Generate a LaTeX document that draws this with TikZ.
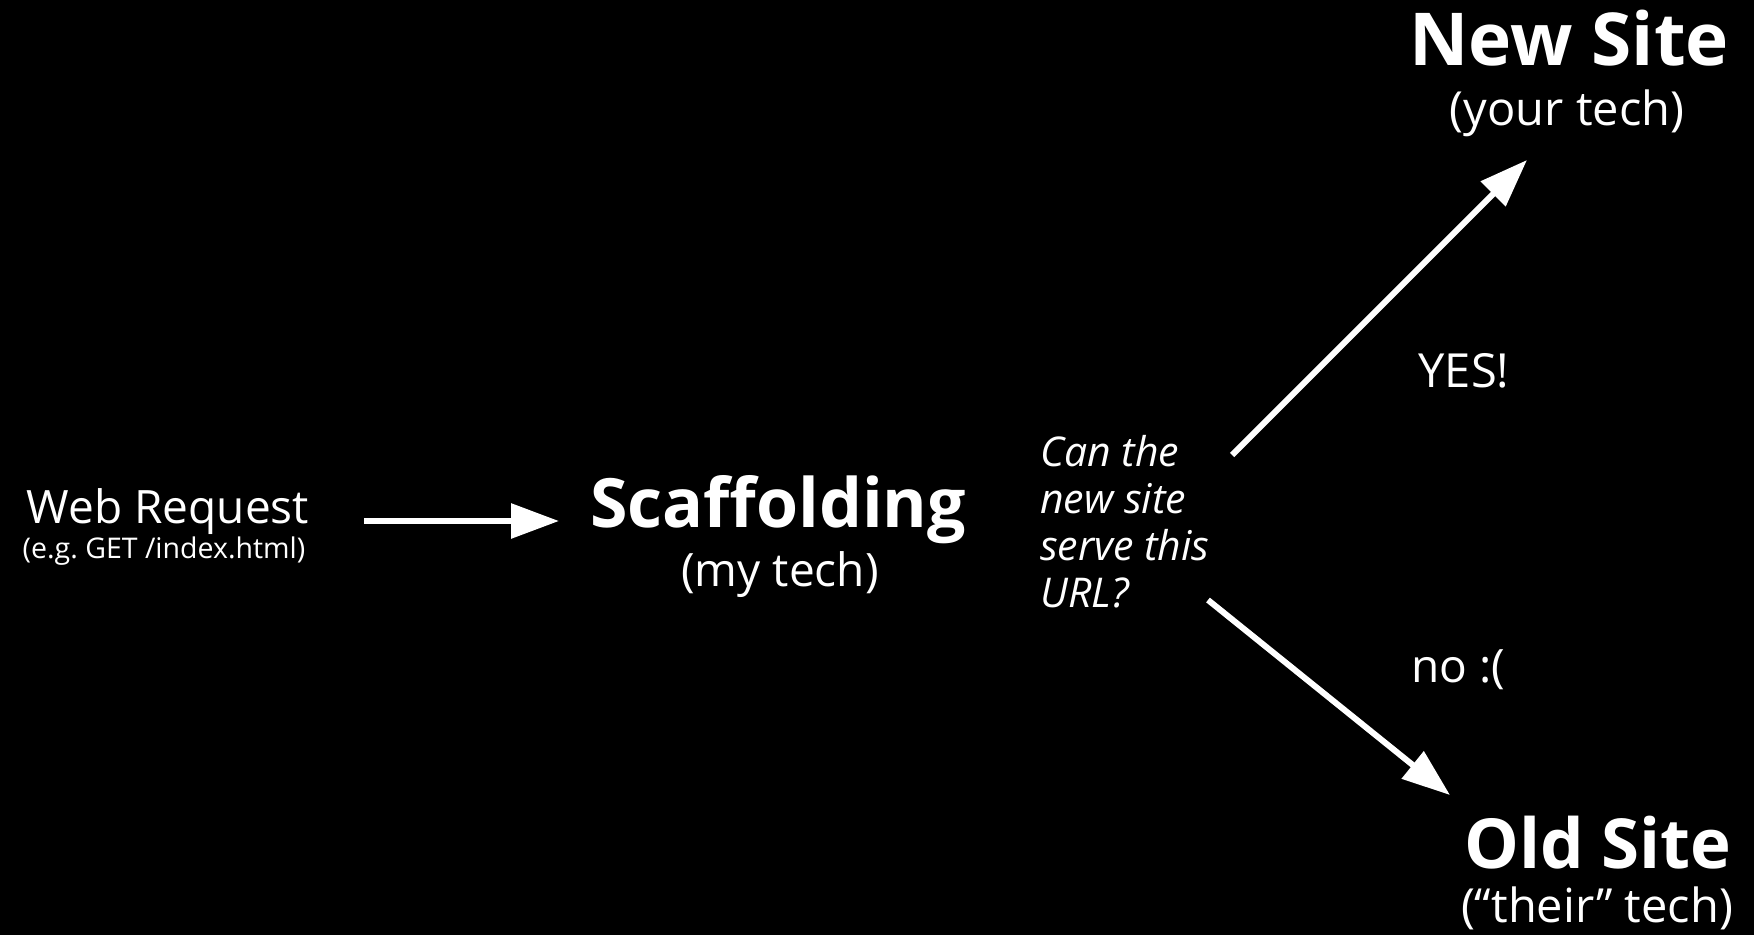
\documentclass[tikz,border=0pt]{standalone}
\usepackage{fontspec}
\setmainfont{Open Sans}
\usetikzlibrary{arrows.meta}
\tikzset{
  lbl/.style={text=white, inner sep=0pt, anchor=base},
  flow/.style={draw=white, line width=6pt,
    -{Triangle[length=48pt, width=34pt]}},
}
\begin{document}
\begin{tikzpicture}[x=1pt, y=-1pt]
  % black canvas
  \fill[black] (0,0) rectangle (1754,935);
  \useasboundingbox (0,0) rectangle (1754,935);

  % request on the left
  \node[lbl, font=\fontsize{46}{52}\selectfont] (web) at (168,523) {Web Request};
  \node[lbl, font=\fontsize{28.5}{34}\selectfont] (webex) at (164,558) {(e.g.\ GET /index.html)};

  % scaffolding in the middle
  \node[lbl, font=\bfseries\fontsize{68}{74}\selectfont] (scaf) at (778,527) {Scaffolding};
  \node[lbl, font=\fontsize{46}{52}\selectfont] (scafsub) at (780,586) {(my tech)};

  % the question (anchored on the baseline of its last line)
  \node[text=white, inner sep=0pt, anchor=base west, align=left,
        font=\itshape\fontsize{41}{47}\selectfont] (q) at (1040,607)
        {Can the\\new site\\serve this\\URL?};

  % destinations
  \node[lbl, font=\bfseries\fontsize{73}{80}\selectfont] (new) at (1569,65) {New Site};
  \node[lbl, font=\fontsize{47}{52}\selectfont] (newsub) at (1567,125) {(your tech)};
  \node[lbl, font=\bfseries\fontsize{69}{76}\selectfont] (old) at (1598,868) {Old Site};
  \node[lbl, font=\fontsize{47}{52}\selectfont] (oldsub) at (1597,922) {(“their” tech)};

  % branch labels
  \node[lbl, font=\fontsize{47}{52}\selectfont] (yes) at (1464,387) {YES!};
  \node[lbl, font=\fontsize{46}{52}\selectfont] (no) at (1458,682) {no :(};

  % connector ends
  \coordinate (a1s) at (364,521);
  \coordinate (a1e) at (559,521);
  \coordinate (a2s) at (1232,455);
  \coordinate (a2e) at (1527,160);
  \coordinate (a3s) at (1208,600);
  \coordinate (a3e) at (1450,795);

  \draw[flow] (a1s) -- (a1e);
  \draw[flow] (a2s) -- (a2e);
  \draw[flow] (a3s) -- (a3e);
\end{tikzpicture}
\end{document}
